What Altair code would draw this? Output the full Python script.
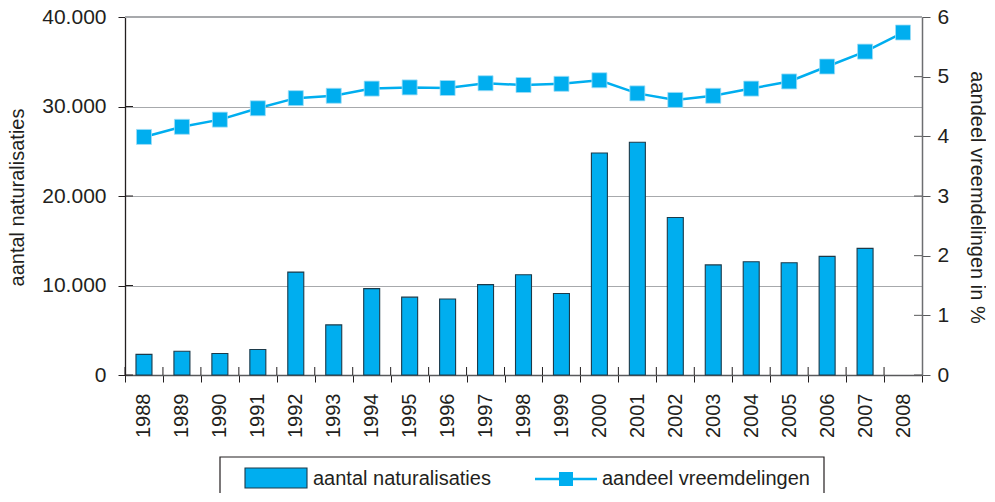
import altair as alt
import pandas as pd

# ---- data ----
years = [str(y) for y in range(1988, 2009)]
naturalisaties = [2300, 2650, 2400, 2850, 11500, 5600, 9650, 8700, 8500, 10100,
                  11200, 9100, 24800, 26000, 17600, 12300, 12650, 12550, 13250, 14150, None]
aandeel = [3.99, 4.16, 4.28, 4.47, 4.64, 4.68, 4.80, 4.82, 4.81, 4.89,
           4.86, 4.88, 4.94, 4.72, 4.61, 4.68, 4.80, 4.92, 5.17, 5.42, 5.74]
left_ticks = [0, 10000, 20000, 30000, 40000]
right_ticks = [0, 1, 2, 3, 4, 5, 6]
legend_labels = ["aantal naturalisaties", "aandeel vreemdelingen"]
left_title = "aantal naturalisaties"
right_title = "aandeel vreemdelingen in %"

df = pd.DataFrame({"jaar": years, "naturalisaties": naturalisaties, "aandeel": aandeel})
lt = pd.DataFrame({"v": left_ticks})
rt = pd.DataFrame({"v": right_ticks})

W, H = 797, 358
CYAN = "#00AEEF"
DARK = "#231F20"
GRID = "#A7A9AC"
FONT = "Liberation Sans"

xscale = alt.Scale(domain=years, paddingInner=0, paddingOuter=0)
x_axis = alt.Axis(title=None, labelAngle=270, labelFontSize=20, labelColor=DARK,
                  labelFont=FONT, tickBand="extent", tickSize=7, tickColor=DARK,
                  tickWidth=1, domainColor="#58595B", domainWidth=1.5,
                  labelPadding=11, grid=False)
yl_scale = alt.Scale(domain=[0, 40000], nice=False)
yr_scale = alt.Scale(domain=[0, 6], nice=False)

bars = alt.Chart(df).mark_bar(width=16, fill=CYAN, stroke="#1C3A4A", strokeWidth=1.1).encode(
    x=alt.X("jaar:N", scale=xscale, axis=x_axis),
    y=alt.Y("naturalisaties:Q", scale=yl_scale,
            axis=alt.Axis(orient="left", values=left_ticks, grid=True, gridColor=GRID,
                          gridWidth=1, domainColor=DARK, domainWidth=1.3, tickColor=DARK,
                          tickSize=7, labelFontSize=21, labelColor=DARK, labelFont=FONT,
                          labelPadding=12,
                          labelExpr="datum.value == 0 ? '0' : (datum.value / 1000) + '.000'",
                          title=left_title, titleFontSize=20, titleFont=FONT,
                          titleFontWeight="normal", titleColor=DARK,
                          titleX=-108, titleY=180, titleBaseline="middle")),
)

left_inner = alt.Chart(lt).mark_rule(color=DARK, strokeWidth=1).encode(
    x=alt.value(0), x2=alt.value(8),
    y=alt.Y("v:Q", scale=yl_scale, axis=None),
)

line = alt.Chart(df).mark_line(color=CYAN, strokeWidth=2.5).encode(
    x=alt.X("jaar:N", scale=xscale, axis=x_axis),
    y=alt.Y("aandeel:Q", scale=yr_scale,
            axis=alt.Axis(orient="right", values=right_ticks, grid=False,
                          domainColor="#6D6E71", domainWidth=1.5, tickColor="#58595B",
                          tickSize=8, labelFontSize=21, labelColor=DARK, labelFont=FONT,
                          labelPadding=7, title=right_title, titleFontSize=20,
                          titleFont=FONT, titleFontWeight="normal", titleColor=DARK,
                          titleX=54, titleY=180, titleBaseline="middle")),
)
points = alt.Chart(df).mark_point(shape="square", filled=True, size=225, color=CYAN,
                                  opacity=1, stroke="#9FDDF6", strokeWidth=0.8).encode(
    x=alt.X("jaar:N", scale=xscale, axis=x_axis),
    y=alt.Y("aandeel:Q", scale=yr_scale, axis=None),
)
right_inner = alt.Chart(rt).mark_rule(color="#58595B", strokeWidth=1).encode(
    x=alt.value(W - 8), x2=alt.value(W),
    y=alt.Y("v:Q", scale=yr_scale, axis=None),
)

# upward part of x ticks
x_up = alt.Chart(df).mark_rule(color=DARK, strokeWidth=1).encode(
    x=alt.X("jaar:N", scale=xscale, bandPosition=0, axis=x_axis),
    y=alt.value(H - 8), y2=alt.value(H),
)
one = pd.DataFrame({"a": [1]})
top_line = alt.Chart(one).mark_rule(color=GRID, strokeWidth=2).encode(
    x=alt.value(0), x2=alt.value(W), y=alt.value(0),
)

# legend
leg_box = alt.Chart(one).mark_rect(fill="transparent", stroke=DARK, strokeWidth=1.2).encode(
    x=alt.value(95), x2=alt.value(699), y=alt.value(440), y2=alt.value(477),
)
leg_sw = alt.Chart(one).mark_rect(fill=CYAN, stroke="#1C3A4A", strokeWidth=1.1).encode(
    x=alt.value(120), x2=alt.value(182), y=alt.value(451), y2=alt.value(471),
)
leg_t1 = alt.Chart(pd.DataFrame({"label": [legend_labels[0]]})).mark_text(
    align="left", baseline="middle", fontSize=20, font=FONT, color=DARK).encode(
    x=alt.value(188), y=alt.value(462), text="label:N",
)
leg_ln = alt.Chart(one).mark_rule(color=CYAN, strokeWidth=2.5).encode(
    x=alt.value(410), x2=alt.value(472), y=alt.value(462),
)
leg_pt = alt.Chart(one).mark_point(shape="square", filled=True, size=196, color=CYAN,
                                   opacity=1).encode(
    x=alt.value(441), y=alt.value(462),
)
leg_t2 = alt.Chart(pd.DataFrame({"label": [legend_labels[1]]})).mark_text(
    align="left", baseline="middle", fontSize=20, font=FONT, color=DARK).encode(
    x=alt.value(477), y=alt.value(462), text="label:N",
)

chart = alt.layer(
    bars, left_inner, line, points, right_inner, x_up, top_line,
    leg_box, leg_sw, leg_t1, leg_ln, leg_pt, leg_t2,
).resolve_scale(y="independent").properties(
    width=W, height=H,
    autosize=alt.AutoSizeParams(type="none"),
    padding={"left": 117, "top": 9, "right": 64, "bottom": 118},
).configure_view(strokeWidth=0)

chart.save("out.html", embed_options={"renderer": "svg", "actions": False})
